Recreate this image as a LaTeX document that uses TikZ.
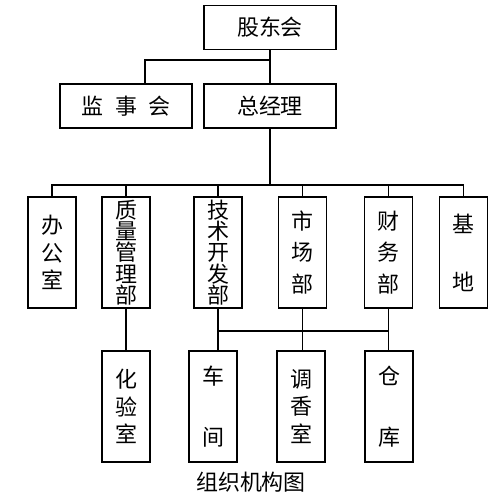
\documentclass[tikz,border=0pt]{standalone}
\usepackage{fontspec}
\newfontfamily\cjk{Noto Sans CJK SC}
\usetikzlibrary{calc}
\begin{document}
\begin{tikzpicture}[x=0.02cm,y=-0.02cm,
  hbox/.style={draw,line width=1.1pt,minimum width=2.64cm,minimum height=0.88cm,inner sep=0pt,
    font=\cjk\fontsize{12.5}{15}\selectfont},
  vbox/.style={draw,line width=1.1pt,minimum width=0.96cm,minimum height=2.22cm,inner sep=0pt,
    align=center,font=\cjk\fontsize{12.5}{#1}\selectfont},
  vbox/.default=15.8pt,
  link/.style={line width=0.85pt}]
\useasboundingbox (0,0) rectangle (500,500);
% top level
\node[hbox] (gdh) at (270,27.5) {股东会};
\node[hbox] (jsh) at (126,106) {监\hspace{6.5pt}事\hspace{6.5pt}会};
\node[hbox] (zjl) at (270,106) {总经理};
% departments
\node[vbox] (bgs) at (52,252.5) {办\\公\\室};
\node[vbox=12.1pt] (zlgl) at (126,252.5) {质\\量\\管\\理\\部};
\node[vbox=12.1pt] (jskf) at (218,252.5) {技\\术\\开\\发\\部};
\node[vbox=18pt] (scb) at (302.5,252.5) {市\\场\\部};
\node[vbox=18pt] (cwb) at (388.5,252.5) {财\\务\\部};
\node[vbox=33pt] (jd) at (463.5,252.5) {基\\地};
% lower units
\node[vbox] (hys) at (126,406.5) {化\\验\\室};
\node[vbox=35pt] (cj) at (213,406.5) {车\\间};
\node[vbox] (dxs) at (301,406.5) {调\\香\\室};
\node[vbox=35pt] (ck) at (389,406.5) {仓\\库};
\node[font=\cjk\fontsize{12.5}{15}\selectfont] (title) at (251,482) {组织机构图};
% connectors
\coordinate (fork) at (270,60);
\coordinate (bus) at (270,185);
\coordinate (bus2) at (300,331);
\draw[link] (gdh.south) -- (zjl.north);
\draw[link] (fork) -| ($(jsh.north)+(19,0)$);
\draw[link] (zjl.south) -- (bus);
\draw[link] (bgs.north) |- (bus) -| (jd.north);
\foreach \n in {zlgl,jskf,scb,cwb}
  \draw[link] (\n.north) -- (\n.north |- bus);
\draw[link] (zlgl.south) -- (hys.north);
\draw[link] (jskf.south) -- (jskf.south |- cj.north);
\draw[link] (scb.south) -- (scb.south |- dxs.north);
\draw[link] (cwb.south) -- (cwb.south |- ck.north);
\draw[link] (jskf.south |- bus2) -- (cwb.south |- bus2);
\end{tikzpicture}
\end{document}
